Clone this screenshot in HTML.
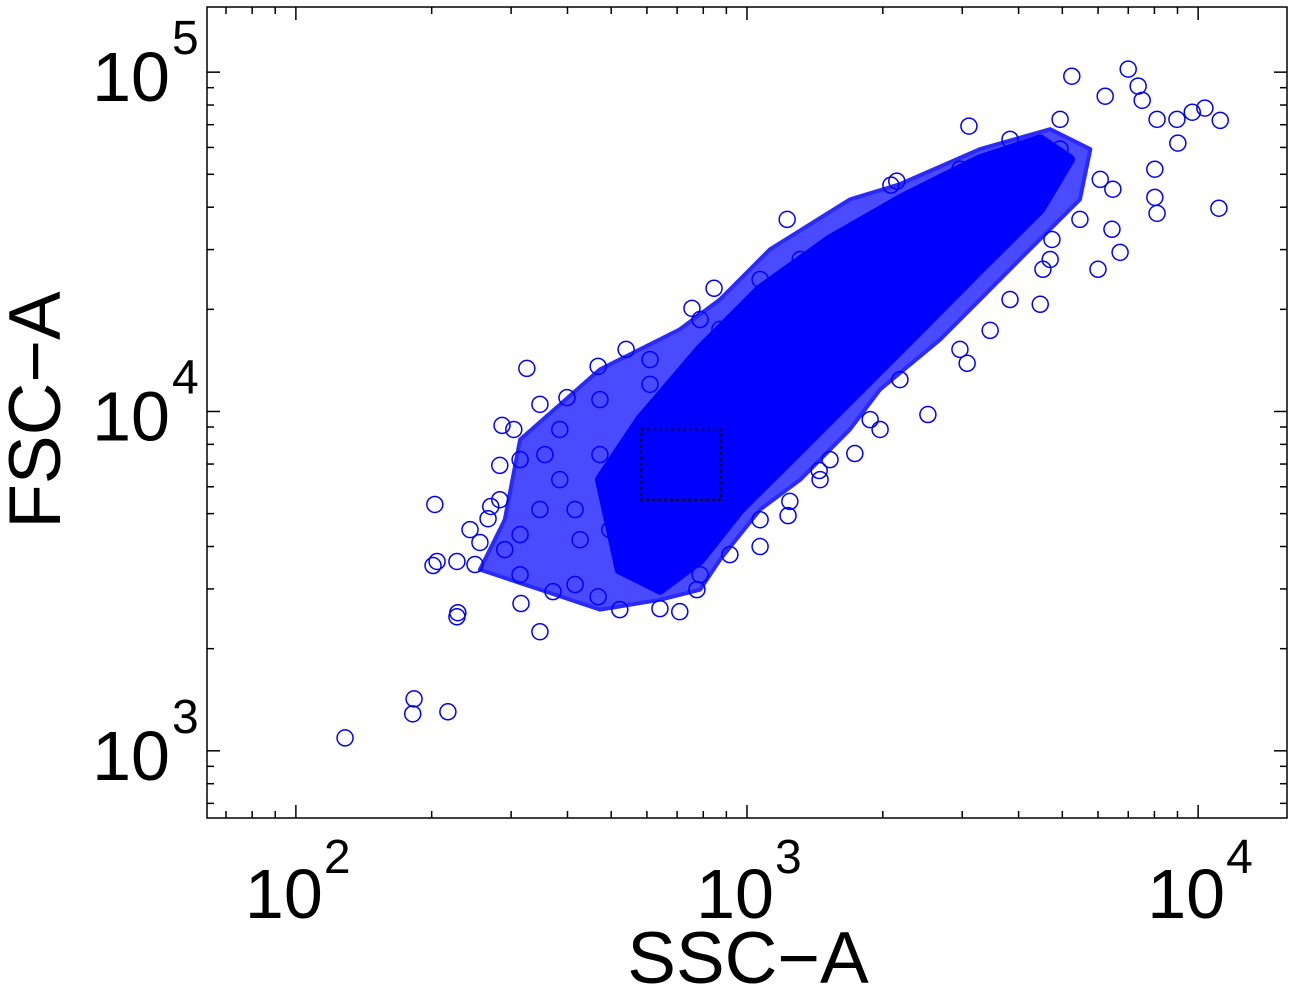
<!DOCTYPE html>
<html><head><meta charset="utf-8"><style>
html,body{margin:0;padding:0;background:#fff;}
svg{display:block;}
text{font-family:"Liberation Sans",sans-serif;fill:#000;}
</style></head><body>
<svg id="chart" width="1295" height="991" viewBox="0 0 1295 991" xmlns="http://www.w3.org/2000/svg">
<g id="plot"></g>
<g id="axes"></g>
<text x="748" y="983" font-size="73" text-anchor="middle">SSC−A</text>
<text transform="translate(60,410) rotate(-90)" font-size="73" text-anchor="middle">FSC−A</text>
</svg>
<script>
// data (log10 values)
const sscLog = [2.109,2.262,2.259,2.337,2.308,2.313,2.304,2.357,2.359,2.357,2.541,2.499,2.426,2.432,2.452,2.457,2.483,2.512,2.541,2.601,2.670,2.732,2.878,2.927,3.089,3.319,3.332,3.492,3.720,3.845,3.867,3.876,3.794,3.909,3.987,4.015,4.049,4.046,3.953,3.955,3.904,3.909,3.904,3.811,3.809,3.778,3.827,3.676,3.656,3.650,3.539,3.488,3.401,3.239,3.160,3.095,3.091,3.029,2.889,2.851,2.807,2.718,2.670,2.619,2.570,2.497,2.408,2.397,2.497,2.585,2.674,2.785,2.940,3.029,3.406,3.561,3.694,3.583,3.295,3.184,2.386,2.463,2.541,2.630,2.763,2.896,2.962,3.029,3.162,3.273,3.339,3.472,3.583,3.672,3.738,3.783,3.694,3.583,3.472,3.384,3.251,3.118,3.029,2.896,2.785,2.674,2.585,2.497,2.452,2.552,2.619,2.718,2.696];
const fscLog = [3.038,3.153,3.109,3.115,3.726,3.558,3.546,3.558,3.407,3.395,3.351,3.434,3.684,3.720,3.841,3.959,3.947,4.127,4.021,4.041,4.133,4.183,4.304,4.363,4.566,4.667,4.679,4.841,4.988,5.009,4.959,4.917,4.929,4.861,4.882,4.894,4.858,4.599,4.861,4.791,4.714,4.584,4.631,4.655,4.537,4.419,4.469,4.507,4.419,4.316,4.239,4.142,3.991,3.876,3.826,3.735,3.693,3.602,3.475,3.410,3.419,3.416,3.454,3.490,3.469,3.519,3.614,3.549,3.637,3.799,3.873,4.080,4.242,4.330,4.330,4.596,4.773,4.714,3.947,3.858,3.652,3.593,3.711,3.622,3.563,3.519,3.578,3.681,3.799,3.976,4.094,4.183,4.330,4.448,4.566,4.684,4.861,4.802,4.714,4.625,4.537,4.448,4.389,4.271,4.153,4.035,3.947,3.858,3.740,3.873,3.711,3.799,3.652];
// dense-cluster outlines (log10 ssc, log10 fsc)
const haloSsc = [2.463,2.497,2.674,2.851,2.940,3.051,3.228,3.339,3.516,3.672,3.761,3.738,3.627,3.539,3.428,3.295,3.228,3.118,3.029,2.940,2.896,2.807,2.674,2.541,2.408];
const haloFsc = [3.681,3.917,4.124,4.242,4.330,4.478,4.625,4.670,4.773,4.832,4.773,4.625,4.478,4.360,4.212,4.065,3.947,3.799,3.711,3.563,3.475,3.445,3.416,3.475,3.534];
const coreSsc = [2.674,2.763,2.896,3.029,3.184,3.339,3.516,3.650,3.716,3.650,3.516,3.384,3.251,3.118,2.984,2.896,2.807,2.718];
const coreFsc = [3.799,3.976,4.183,4.360,4.507,4.625,4.743,4.802,4.743,4.596,4.419,4.242,4.065,3.888,3.711,3.563,3.475,3.534];
const gateSsc = [2.765,2.942];
const gateFsc = [3.740,3.947];
const xTickExp = [2,3,4];
const yTickExp = [3,4,5];

const L=207,R=1287,T=7,B=818;
const xLogMin=1.803,xLogMax=4.197,yLogMin=2.802,yLogMax=5.192;
const sx=v=>L+(v-xLogMin)/(xLogMax-xLogMin)*(R-L);
const sy=v=>B-(v-yLogMin)/(yLogMax-yLogMin)*(B-T);
const NS='http://www.w3.org/2000/svg';
const mk=(t,a,p)=>{const e=document.createElementNS(NS,t);for(const k in a)e.setAttribute(k,a[k]);p.appendChild(e);return e;};
const plot=document.getElementById('plot'),axes=document.getElementById('axes');

const halo=mk('polygon',{points:haloSsc.map((v,i)=>sx(v)+','+sy(haloFsc[i])).join(' '),fill:'#4a4aff',stroke:'#2a2aff','stroke-width':4,'stroke-linejoin':'round'},plot);


const core=mk('polygon',{points:coreSsc.map((v,i)=>sx(v)+','+sy(coreFsc[i])).join(' '),fill:'#0000ff',stroke:'#0000ff','stroke-width':10,'stroke-linejoin':'round'},plot);


sscLog.forEach((v,i)=>{
  const c=mk('circle',{cx:sx(v),cy:sy(fscLog[i]),r:8,fill:'none',stroke:'#0000ff','stroke-width':1.5},plot);
  
  
});
const gate=mk('rect',{x:sx(gateSsc[0]),y:sy(gateFsc[1]),width:sx(gateSsc[1])-sx(gateSsc[0]),height:sy(gateFsc[0])-sy(gateFsc[1]),fill:'none',stroke:'#000','stroke-width':2,'stroke-dasharray':'3,3'},plot);



const frame=mk('rect',{x:L,y:T,width:R-L,height:B-T,fill:'none',stroke:'#000','stroke-width':1.5},axes);


for(let d=1;d<=4;d++)for(let m=1;m<10;m++){
  const lv=d+Math.log10(m);if(lv<xLogMin||lv>xLogMax)continue;
  const x=sx(lv),len=m===1?13:7;
  const t1=mk('line',{x1:x,x2:x,y1:B,y2:B-len,stroke:'#000','stroke-width':1.5},axes);
  
  
  const t2=mk('line',{x1:x,x2:x,y1:T,y2:T+len,stroke:'#000','stroke-width':1.5},axes);
  
  
}
for(let d=2;d<=5;d++)for(let m=1;m<10;m++){
  const lv=d+Math.log10(m);if(lv<yLogMin||lv>yLogMax)continue;
  const y=sy(lv),len=m===1?13:7;
  const t1=mk('line',{x1:L,x2:L+len,y1:y,y2:y,stroke:'#000','stroke-width':1.5},axes);
  
  
  const t2=mk('line',{x1:R,x2:R-len,y1:y,y2:y,stroke:'#000','stroke-width':1.5},axes);
  
  
}
xTickExp.forEach(e=>{
  const x=sx(e);
  const t=mk('text',{x:x-12,y:918,'font-size':70,'text-anchor':'middle'},axes);
  t.textContent='10';
  
  
  const s=mk('text',{x:x+28,y:873,'font-size':48},axes);
  s.textContent=String(e);
  
  
});
yTickExp.forEach(e=>{
  const y=sy(e);
  const t=mk('text',{x:170,y:y+29,'font-size':70,'text-anchor':'end'},axes);
  t.textContent='10';
  
  
  const s=mk('text',{x:172,y:y-18,'font-size':48},axes);
  s.textContent=String(e);
  
  
});
</script>
</body></html>
